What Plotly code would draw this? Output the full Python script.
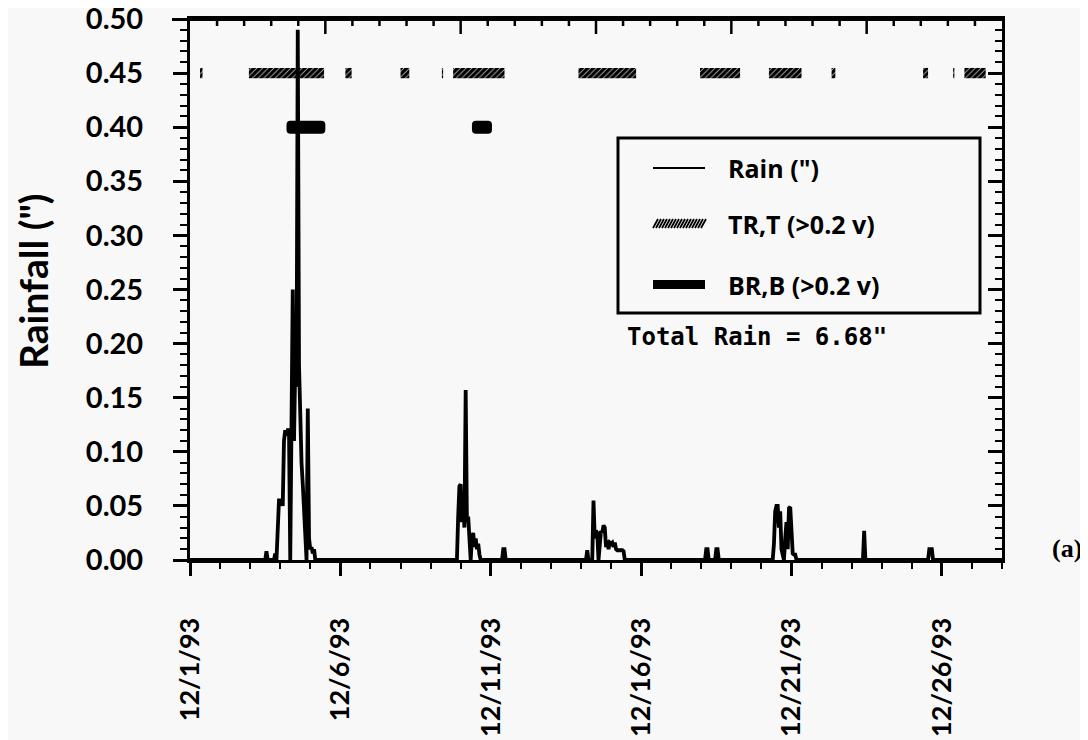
import pandas as pd
import plotly.graph_objects as go

# ---------------- data ----------------
START = pd.Timestamp("1993-12-01")

# hourly rainfall (hours after 12/1/93 00:00, inches)
rain_hours = [0,
              60, 61, 62,
              67, 68, 69, 70, 71, 72, 73, 74, 75, 76, 77, 78, 79, 80, 81, 82, 83, 84, 85, 86, 87,
              88, 89, 90, 91, 92, 93, 94, 95, 96, 97, 98, 99, 100,
              213, 214, 215, 216, 217, 218, 219, 220, 221, 222, 223, 224, 225, 226, 227, 228,
              229, 230, 231, 232,
              249, 250, 251, 252,
              316, 317, 318, 321, 322, 323, 324, 325, 326, 327, 328, 329, 330, 331, 332, 333,
              334, 335, 336, 337, 338, 339, 340, 341, 342, 343, 344, 345, 346, 347,
              411, 412, 413, 414, 419, 420, 421, 422,
              465, 466, 467, 468, 469, 470, 471, 472, 473, 474, 475, 476, 477, 478, 479, 480,
              481, 482, 483, 484,
              537, 538, 539,
              589, 590, 591, 592, 593,
              648]
rain_values = [0,
               0, 0.008, 0,
               0, 0.006, 0, 0.03, 0.055, 0.055, 0.055, 0.05, 0.11, 0.12, 0.115, 0.12, 0.12, 0.0,
               0.12, 0.25, 0.11, 0.18, 0.16, 0.49, 0.18,
               0.12, 0.09, 0.07, 0.04, 0.02, 0.0, 0.14, 0.02, 0.01, 0.012, 0.006, 0.01, 0,
               0, 0.04, 0.068, 0.07, 0.035, 0.05, 0.03, 0.157, 0.035, 0.04, 0.015, 0.0, 0.02,
               0.025, 0.012, 0.02, 0.01, 0.015, 0.005, 0,
               0, 0.01, 0.01, 0,
               0, 0.009, 0, 0, 0.055, 0.02, 0.027, 0.025, 0.0, 0.02, 0.027, 0.025, 0.032, 0.03,
               0.012, 0.018, 0.01, 0.016, 0.015, 0.016, 0.012, 0.016, 0.01, 0.009, 0.009, 0.009,
               0.009, 0.009, 0.008, 0,
               0, 0.01, 0.01, 0, 0, 0.01, 0.01, 0,
               0, 0.015, 0.045, 0.05, 0.05, 0.03, 0.045, 0.01, 0.005, 0.0, 0.02, 0.035, 0.01,
               0.048, 0.049, 0.02, 0.006, 0.005, 0.005, 0,
               0, 0.027, 0,
               0, 0.01, 0.01, 0.01, 0,
               0]

# TR,T (>0.2 v) periods (hours after start)
tr_start = [8, 47, 124, 168, 201, 210, 310, 407, 462, 512, 585, 609, 618]
tr_end = [10, 107, 129, 175, 202, 251, 356, 439, 488, 515, 589, 610, 635]
tr_level = 0.45

# BR,B (>0.2 v) periods
br_start = [77, 225]
br_end = [108, 241]
br_level = 0.40

tick_dates = ["1993-12-01", "1993-12-06", "1993-12-11", "1993-12-16", "1993-12-21", "1993-12-26"]
tick_labels = ["12/1/93", "12/6/93", "12/11/93", "12/16/93", "12/21/93", "12/26/93"]
x_range = ["1993-12-01", "1993-12-28"]
total_text = 'Total Rain = 6.68"'

# ---------------- figure ----------------
def t(h):
    return START + pd.to_timedelta(h, unit="h")

BG = "#f8f8f8"
fig = go.Figure()

fig.add_trace(go.Scatter(
    x=[t(h) for h in rain_hours], y=rain_values, mode="lines", name='Rain (")',
    line=dict(color="black", width=3.8), showlegend=False))

fig.add_trace(go.Bar(
    orientation="h", name="TR,T (>0.2 v)",
    y=[tr_level] * len(tr_start),
    base=[t(s) for s in tr_start],
    x=[(e - s) * 3600000 for s, e in zip(tr_start, tr_end)],
    width=0.0095,
    marker=dict(color="rgba(0,0,0,0)", line=dict(width=0),
                pattern=dict(shape="/", fgcolor="black", bgcolor="rgba(0,0,0,0)",
                             size=4, solidity=0.85, fgopacity=1)),
    showlegend=False))

fig.add_trace(go.Bar(
    orientation="h", name="BR,B (>0.2 v)",
    y=[br_level] * len(br_start),
    base=[t(s) for s in br_start],
    x=[(e - s) * 3600000 for s, e in zip(br_start, br_end)],
    width=0.012, marker=dict(color="black", line=dict(width=0), cornerradius=4),
    showlegend=False))

# invisible helper trace so the right frame axis gets drawn
fig.add_trace(go.Scatter(x=[t(0)], y=[0], xaxis="x", yaxis="y2", mode="markers",
                         marker=dict(opacity=0, size=1),
                         showlegend=False, hoverinfo="skip"))

tickfont = dict(family="Lato", size=29, color="black", weight="bold")
xtickfont = dict(family="Lato", size=27, color="black", weight="bold")
YMAX = 0.500001

# page has an 8 px body margin, so the figure is 8 px smaller and shifted
fig.update_layout(
    template="none",
    width=1080, height=732,
    margin=dict(l=182, r=86, t=11, b=180, pad=0),
    paper_bgcolor=BG, plot_bgcolor=BG,
    barmode="overlay",
    showlegend=False,
    xaxis=dict(type="date", range=x_range, tickmode="array",
               tickvals=tick_dates, ticktext=tick_labels, tickangle=-90,
               ticks="outside", ticklen=13, tickwidth=2.5, tickcolor="black",
               minor=dict(dtick=86400000, tick0="1993-12-01", ticks="outside",
                          ticklen=6, tickwidth=2, tickcolor="black"),
               showline=True, mirror=True, linewidth=3, linecolor="black",
               showgrid=False, zeroline=False, tickfont=xtickfont,
               ticklabelstandoff=31, ticklabeloverflow="allow"),
    yaxis=dict(range=[0, YMAX], dtick=0.05, tick0=0, tickformat=".2f",
               ticks="outside", ticklen=14, tickwidth=2.5, tickcolor="black",
               minor=dict(dtick=0.01, ticks="outside", ticklen=7, tickwidth=2,
                          tickcolor="black"),
               showline=True, linewidth=3, linecolor="black",
               showgrid=False, zeroline=False, tickfont=tickfont,
               ticklabelstandoff=24, ticklabeloverflow="allow"),
    yaxis2=dict(type="linear", overlaying="y", side="right", anchor="x",
                range=[0, YMAX], tick0=0, dtick=0.05,
                ticks="inside", ticklen=14, tickwidth=2.5, tickcolor="black",
                minor=dict(dtick=0.01, ticks="inside", ticklen=7, tickwidth=2,
                           tickcolor="black"),
                showticklabels=False, showline=True, linewidth=3, linecolor="black",
                showgrid=False, zeroline=False),
)

# helper conversions from reference-plot pixels to paper fractions
W, H, L, B = 812.0, 541.0, 190.0, 557.0
def px(x):
    return (x - L) / W
def py(y):
    return (B - y) / H

# ---------------- top frame: 30 inward ticks (long every 5th) ----------------
top_parts = []
for k in range(1, 30):
    ln = 15 if k % 5 == 0 else 7
    xk = k / 30.0
    top_parts.append(f"M{xk:.5f},{py(16):.5f}L{xk:.5f},{py(16 + ln):.5f}")
fig.add_shape(type="path", xref="paper", yref="paper", path="".join(top_parts),
              line=dict(color="black", width=2.5))
fig.add_shape(type="line", xref="paper", yref="paper", x0=px(172), x1=1.0,
              y0=py(16.5), y1=py(16.5), line=dict(color="black", width=3))

# ---------------- custom legend ----------------
fig.add_shape(type="rect", xref="paper", yref="paper",
              x0=px(618), x1=px(980), y0=py(310), y1=py(135),
              line=dict(color="black", width=3), fillcolor=BG, layer="above")
fig.add_shape(type="line", xref="paper", yref="paper",
              x0=px(653), x1=px(705), y0=py(165), y1=py(165),
              line=dict(color="black", width=2))
# hatched sample
segs = []
xx = 653
while xx + 5 <= 706:
    segs.append(f"M{px(xx):.5f},{py(225):.5f}L{px(xx + 5):.5f},{py(216):.5f}")
    xx += 3.0
fig.add_shape(type="path", xref="paper", yref="paper", path="".join(segs),
              line=dict(color="black", width=1.8))
fig.add_shape(type="rect", xref="paper", yref="paper",
              x0=px(653), x1=px(705), y0=py(286), y1=py(277),
              line=dict(width=0), fillcolor="black")

legfont = dict(family="Open Sans", size=25, color="black", weight="bold")
for label, yc in [('Rain (")', 165), ("TR,T (>0.2 v)", 221), ("BR,B (>0.2 v)", 282)]:
    fig.add_annotation(xref="paper", yref="paper", x=px(726), y=py(yc), text=label,
                       showarrow=False, xanchor="left", yanchor="middle", font=legfont)

fig.add_annotation(xref="paper", yref="paper", x=px(625), y=py(334), text=total_text,
                   showarrow=False, xanchor="left", yanchor="middle",
                   font=dict(family="DejaVu Sans Mono", size=24, color="black", weight="bold"))

fig.add_annotation(xref="paper", yref="paper", x=px(1050), y=py(545), text="(a)",
                   showarrow=False, xanchor="left", yanchor="middle",
                   font=dict(family="Liberation Serif", size=26, color="black", weight="bold"))

fig.add_annotation(xref="paper", yref="paper", x=px(33), y=py(278), text='Rainfall (")',
                   showarrow=False, xanchor="center", yanchor="middle", textangle=-90,
                   font=dict(family="Lato", size=39, color="black", weight="bold"))

fig.write_html("out.html")
